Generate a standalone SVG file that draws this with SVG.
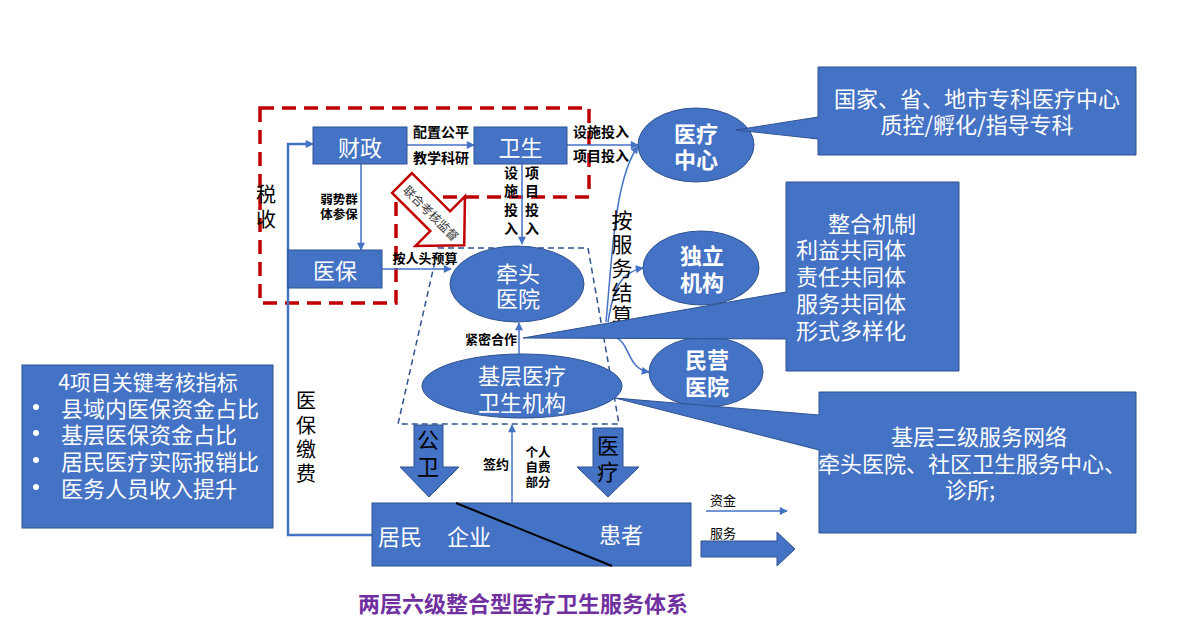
<svg xmlns="http://www.w3.org/2000/svg" width="1183" height="631" viewBox="0 0 1183 631">
<defs>
<marker id="ah" viewBox="0 0 10 10" refX="9" refY="5" markerWidth="9" markerHeight="8" markerUnits="userSpaceOnUse" orient="auto"><path d="M0,0 L10,5 L0,10 z" fill="#4472C4"/></marker>
</defs>
<style>
text{font-family:"Noto Sans CJK SC","Liberation Sans",sans-serif;dominant-baseline:central}
.box{fill:#4472C4;stroke:#2F528F;stroke-width:1}
.w{fill:#fff}
.k{fill:#000}
.b{font-weight:700}
.lnm{stroke:#4472C4;stroke-width:1.5;fill:none;marker-end:url(#ah)}
.mid{text-anchor:middle}
</style>
<rect width="1183" height="631" fill="#fff"/>

<!-- red dashed region -->
<path d="M260,108 H589 V197 H396 V303 H260 Z" fill="none" stroke="#C00000" stroke-width="3.5" stroke-dasharray="14 8"/>

<!-- dashed trapezoid -->
<path d="M438,248 H588 L619,424 H398 Z" fill="none" stroke="#2F528F" stroke-width="1.5" stroke-dasharray="6 4"/>

<g id="connectors">
  <polyline points="372,535 288,535 288,144 311,144" fill="none" stroke="#4472C4" stroke-width="2.5"/>
  <line x1="300" y1="144" x2="313" y2="144" class="lnm"/>
  <line x1="407" y1="145" x2="474" y2="145" class="lnm"/>
  <line x1="567" y1="145" x2="638" y2="145" class="lnm"/>
  <line x1="361" y1="164" x2="361" y2="250" class="lnm"/>
  <line x1="522" y1="164" x2="522" y2="244" class="lnm"/>
  <line x1="382" y1="269" x2="451" y2="269" class="lnm"/>
  <line x1="519" y1="355" x2="519" y2="323" class="lnm"/>
  <line x1="512" y1="503" x2="512" y2="425" class="lnm"/>
  <path d="M606,322 C612,260 614,180 638,146" class="lnm" stroke-width="1.2"/>
  <path d="M608,322 C613,290 620,272 643,268" class="lnm" stroke-width="1.2"/>
  <path d="M610,336 C632,338 624,368 649,372" class="lnm" stroke-width="1.2"/>
  <line x1="706" y1="511" x2="787" y2="511" class="lnm"/>
  <polygon points="414,425 443,425 443,467 459,467 429,497 400,467 414,467" class="box"/>
  <polygon points="593,428 623,428 623,467 639,467 608,497 577,467 593,467" class="box"/>
  <polygon points="701,541 777,541 777,532 795,549 777,566 777,557 701,557" class="box"/>
</g>

<!-- joint supervision arrow -->
<g id="supervision" transform="translate(402,183) rotate(45)">
  <polygon points="0,-14 54,-14 54,-35 88,0 54,35 54,14 0,14" fill="#fff" stroke="#C00000" stroke-width="2.5"/>
  <text x="42" y="0" class="mid" font-size="12" fill="#333">联合考核监督</text>
</g>

<g id="caizheng"><rect x="313" y="127" width="94" height="37" class="box"/><text x="360" y="145.5" class="w mid" font-size="22">财政</text></g>
<g id="weisheng"><rect x="474" y="127" width="93" height="37" class="box"/><text x="520.5" y="145.5" class="w mid" font-size="22">卫生</text></g>
<g id="yibao"><rect x="288" y="250" width="94" height="38" class="box"/><text x="335" y="269" class="w mid" font-size="22">医保</text></g>

<g id="qiantou"><ellipse cx="517" cy="284" rx="67" ry="38" class="box"/><text class="w mid" font-size="22"><tspan x="518" y="272">牵头</tspan><tspan x="518" y="297">医院</tspan></text></g>
<g id="jiceng"><ellipse cx="522" cy="386" rx="100" ry="32" class="box"/><text class="w mid" font-size="22"><tspan x="522" y="374">基层医疗</tspan><tspan x="522" y="401">卫生机构</tspan></text></g>
<g id="yiliaozhongxin"><ellipse cx="696" cy="145" rx="58" ry="37" class="box"/><text class="w mid b" font-size="22"><tspan x="696" y="132">医疗</tspan><tspan x="696" y="158">中心</tspan></text></g>
<g id="duli"><ellipse cx="701" cy="268" rx="58" ry="37" class="box"/><text class="w mid b" font-size="22"><tspan x="702" y="254">独立</tspan><tspan x="702" y="281">机构</tspan></text></g>
<g id="minying"><ellipse cx="706" cy="372" rx="57" ry="35" class="box"/><text class="w mid b" font-size="22"><tspan x="707" y="358">民营</tspan><tspan x="707" y="385">医院</tspan></text></g>

<!-- labels -->
<g id="labels" class="k">
  <text x="441" y="131" class="mid b" font-size="14">配置公平</text>
  <text x="441" y="157" class="mid b" font-size="14">教学科研</text>
  <text x="601" y="131" class="mid b" font-size="14">设施投入</text>
  <text x="601" y="155" class="mid b" font-size="14">项目投入</text>
  <text class="mid b" font-size="14"><tspan x="511" y="172">设</tspan><tspan x="511" y="190">施</tspan><tspan x="511" y="209">投</tspan><tspan x="511" y="228">入</tspan></text>
  <text class="mid b" font-size="14"><tspan x="532" y="172">项</tspan><tspan x="532" y="190">目</tspan><tspan x="532" y="209">投</tspan><tspan x="532" y="228">入</tspan></text>
  <text class="mid b" font-size="12.5"><tspan x="339" y="198">弱势群</tspan><tspan x="339" y="213">体参保</tspan></text>
  <text x="425" y="257" class="mid b" font-size="13">按人头预算</text>
  <text x="491" y="338" class="mid b" font-size="13">紧密合作</text>
  <text x="496" y="463" class="mid b" font-size="13">签约</text>
  <text class="mid b" font-size="12.5"><tspan x="538" y="451">个人</tspan><tspan x="538" y="466">自费</tspan><tspan x="538" y="481">部分</tspan></text>
  <text class="mid" font-size="20"><tspan x="266" y="193">税</tspan><tspan x="266" y="218">收</tspan></text>
  <text class="mid" font-size="20"><tspan x="306" y="399">医</tspan><tspan x="306" y="424">保</tspan><tspan x="306" y="448">缴</tspan><tspan x="306" y="472">费</tspan></text>
  <text class="mid" font-size="21"><tspan x="622" y="219">按</tspan><tspan x="622" y="243">服</tspan><tspan x="622" y="267">务</tspan><tspan x="622" y="291">结</tspan><tspan x="622" y="314">算</tspan></text>
  <text class="mid" font-size="22"><tspan x="428" y="438">公</tspan><tspan x="428" y="465">卫</tspan></text>
  <text class="mid" font-size="22"><tspan x="608" y="444">医</tspan><tspan x="608" y="470">疗</tspan></text>
  <text x="710" y="499" font-size="13">资金</text>
  <text x="710" y="532" font-size="13">服务</text>
</g>

<g id="guojia">
  <path d="M818,67 H1136 V155 H818 V139 L736,130 L818,117 Z" class="box"/>
  <text class="w mid" font-size="22"><tspan x="977" y="97">国家、省、地市专科医疗中心</tspan><tspan x="977" y="123">质控/孵化/指导专科</tspan></text>
</g>
<g id="zhenghe">
  <path d="M786,182 H959 V371 H786 V339 L523,338 L786,292 Z" class="box"/>
  <text class="w" font-size="22"><tspan x="828" y="222">整合机制</tspan><tspan x="796" y="248">利益共同体</tspan><tspan x="796" y="275">责任共同体</tspan><tspan x="796" y="302">服务共同体</tspan><tspan x="796" y="329">形式多样化</tspan></text>
</g>
<g id="jicengwangluo">
  <path d="M819,392 H1136 V533 H819 V450 L615,398 L819,415 Z" class="box"/>
  <text class="w mid" font-size="22"><tspan x="979" y="435">基层三级服务网络</tspan><tspan x="972" y="462">牵头医院、社区卫生服务中心、</tspan><tspan x="970" y="488">诊所;</tspan></text>
</g>

<g id="kpi">
  <rect x="22" y="365" width="251" height="163" class="box"/>
  <g fill="#fff"><circle cx="36" cy="407" r="3"/><circle cx="36" cy="433" r="3"/><circle cx="36" cy="460" r="3"/><circle cx="36" cy="487" r="3"/></g>
  <text class="w" font-size="22"><tspan x="148" y="381" text-anchor="middle" font-size="21">4项目关键考核指标</tspan><tspan x="61" y="407">县域内医保资金占比</tspan><tspan x="61" y="433">基层医保资金占比</tspan><tspan x="61" y="460">居民医疗实际报销比</tspan><tspan x="61" y="487">医务人员收入提升</tspan></text>
</g>

<g id="jumin">
  <rect x="372" y="503" width="319" height="63" class="box"/>
  <line x1="456" y1="503" x2="612" y2="566" stroke="#000" stroke-width="2"/>
  <text x="400" y="535" class="w mid" font-size="22">居民</text>
  <text x="469" y="535" class="w mid" font-size="22">企业</text>
  <text x="621" y="533" class="w mid" font-size="22">患者</text>
</g>

<text x="523" y="602" class="mid b" font-size="22" fill="#7030A0">两层六级整合型医疗卫生服务体系</text>
</svg>
